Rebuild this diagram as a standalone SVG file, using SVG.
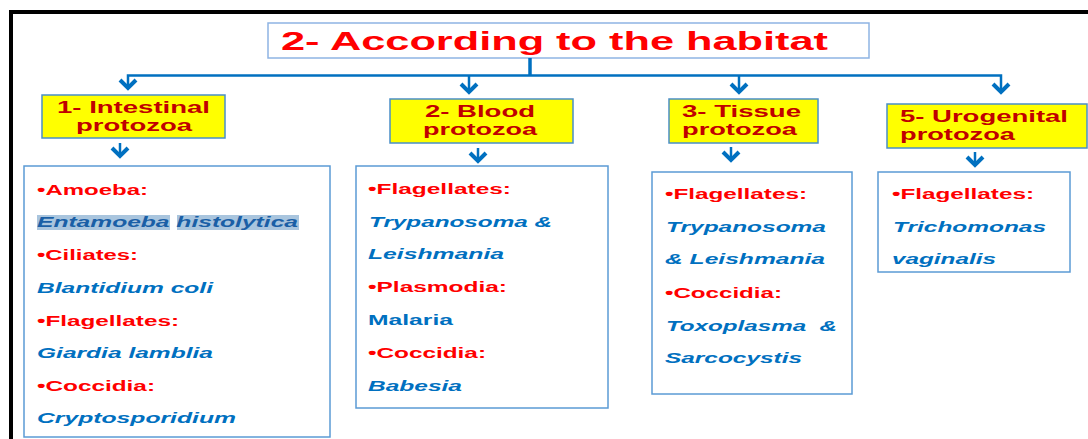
<svg xmlns="http://www.w3.org/2000/svg" width="1088" height="439" viewBox="0 0 1088 439">
<defs>
<style>
.frame{fill:none;stroke:#000;stroke-width:4}
.title{fill:#fff;stroke:#8eb4e3;stroke-width:1.5}
.tt{font-family:"Liberation Sans",Arial,sans-serif;font-weight:bold;font-size:26px;fill:#ff0000}
.hdr{fill:#ffff00;stroke:#4a8fc7;stroke-width:1.5}
.ht{font-family:"Liberation Sans",Arial,sans-serif;font-weight:bold;font-size:16.5px;fill:#c00000}
.box{fill:#fff;stroke:#5b9bd5;stroke-width:1.5}
.lab{font-family:"Liberation Sans",Arial,sans-serif;font-weight:bold;font-size:14.5px;fill:#ff0000}
.sp{font-family:"Liberation Sans",Arial,sans-serif;font-weight:bold;font-style:italic;font-size:14.5px;fill:#0070c0}
.spn{font-family:"Liberation Sans",Arial,sans-serif;font-weight:bold;font-size:14.5px;fill:#0070c0}
.hl{fill:#a9c5de}
.con{fill:none;stroke:#0070c0;stroke-width:2.5}
.arr{fill:none;stroke:#0070c0;stroke-width:4;stroke-linejoin:miter}
</style>
</defs>
<rect class="frame" x="11" y="12" width="1100" height="500"/>

<g id="title">
<rect class="title" x="268" y="23" width="601" height="35"/>
<text class="tt" x="281" y="49.5" textLength="547" lengthAdjust="spacingAndGlyphs">2- According to the habitat</text>
</g>

<g id="connectors">
<path class="con" d="M530 58 V75" style="stroke-width:3.5"/>
<path class="con" d="M128 88 V75.5 H1001 V90"/>
<path class="con" d="M469 75.5 V91"/>
<path class="con" d="M739 75.5 V91"/>
<path class="arr" d="M120 80 L128 88 L136 80"/>
<path class="arr" d="M461 84 L469 92 L477 84"/>
<path class="arr" d="M731 84 L739 92 L747 84"/>
<path class="arr" d="M993 84 L1001 92 L1009 84"/>
<path class="con" d="M120 143 V155"/>
<path class="arr" d="M112 148 L120 156 L128 148"/>
<path class="con" d="M478 148 V160"/>
<path class="arr" d="M470 153 L478 161 L486 153"/>
<path class="con" d="M731 147 V159"/>
<path class="arr" d="M723 152 L731 160 L739 152"/>
<path class="con" d="M975 152 V164"/>
<path class="arr" d="M967 157 L975 165 L983 157"/>
</g>

<g id="hdr-intestinal">
<rect class="hdr" x="42" y="95" width="183" height="43"/>
<text class="ht" x="57" y="113" textLength="153" lengthAdjust="spacingAndGlyphs">1- Intestinal</text>
<text class="ht" x="76" y="131" textLength="116" lengthAdjust="spacingAndGlyphs">protozoa</text>
</g>
<g id="hdr-blood">
<rect class="hdr" x="390" y="99" width="183" height="44"/>
<text class="ht" x="425" y="117" textLength="110" lengthAdjust="spacingAndGlyphs">2- Blood</text>
<text class="ht" x="423" y="135" textLength="114" lengthAdjust="spacingAndGlyphs">protozoa</text>
</g>
<g id="hdr-tissue">
<rect class="hdr" x="669" y="99" width="149" height="44"/>
<text class="ht" x="682" y="117" textLength="119" lengthAdjust="spacingAndGlyphs">3- Tissue</text>
<text class="ht" x="682" y="135" textLength="115" lengthAdjust="spacingAndGlyphs">protozoa</text>
</g>
<g id="hdr-urogenital">
<rect class="hdr" x="887" y="104" width="200" height="44"/>
<text class="ht" x="900" y="122" textLength="168" lengthAdjust="spacingAndGlyphs">5- Urogenital</text>
<text class="ht" x="900" y="140" textLength="115" lengthAdjust="spacingAndGlyphs">protozoa</text>
</g>

<g id="box-intestinal">
<rect class="box" x="24" y="166" width="306" height="271"/>
<rect class="hl" x="37" y="215" width="133" height="15"/>
<rect class="hl" x="177" y="215" width="122" height="15"/>
<text class="lab" x="37" y="195" textLength="111" lengthAdjust="spacingAndGlyphs">•Amoeba:</text>
<text class="sp" x="37" y="227" textLength="261" lengthAdjust="spacingAndGlyphs" style="fill:#1a5fa6">Entamoeba histolytica</text>
<text class="lab" x="37" y="260" textLength="101" lengthAdjust="spacingAndGlyphs">•Ciliates:</text>
<text class="sp" x="37" y="293" textLength="176" lengthAdjust="spacingAndGlyphs">Blantidium coli</text>
<text class="lab" x="37" y="326" textLength="142" lengthAdjust="spacingAndGlyphs">•Flagellates:</text>
<text class="sp" x="37" y="358" textLength="176" lengthAdjust="spacingAndGlyphs">Giardia lamblia</text>
<text class="lab" x="37" y="391" textLength="118" lengthAdjust="spacingAndGlyphs">•Coccidia:</text>
<text class="sp" x="37" y="423" textLength="199" lengthAdjust="spacingAndGlyphs">Cryptosporidium</text>
</g>

<g id="box-blood">
<rect class="box" x="356" y="166" width="252" height="242"/>
<text class="lab" x="368" y="194" textLength="143" lengthAdjust="spacingAndGlyphs">•Flagellates:</text>
<text class="sp" x="369" y="227" textLength="183" lengthAdjust="spacingAndGlyphs">Trypanosoma &amp;</text>
<text class="sp" x="368" y="259" textLength="136" lengthAdjust="spacingAndGlyphs">Leishmania</text>
<text class="lab" x="368" y="292" textLength="139" lengthAdjust="spacingAndGlyphs">•Plasmodia:</text>
<text class="spn" x="368" y="325" textLength="85" lengthAdjust="spacingAndGlyphs">Malaria</text>
<text class="lab" x="368" y="358" textLength="118" lengthAdjust="spacingAndGlyphs">•Coccidia:</text>
<text class="sp" x="368" y="391" textLength="94" lengthAdjust="spacingAndGlyphs">Babesia</text>
</g>

<g id="box-tissue">
<rect class="box" x="652" y="172" width="200" height="222"/>
<text class="lab" x="665" y="199" textLength="142" lengthAdjust="spacingAndGlyphs">•Flagellates:</text>
<text class="sp" x="666" y="232" textLength="160" lengthAdjust="spacingAndGlyphs">Trypanosoma</text>
<text class="sp" x="665" y="264" textLength="160" lengthAdjust="spacingAndGlyphs">&amp; Leishmania</text>
<text class="lab" x="665" y="298" textLength="117" lengthAdjust="spacingAndGlyphs">•Coccidia:</text>
<text class="sp" x="666" y="331" textLength="171" lengthAdjust="spacingAndGlyphs" style="white-space:pre">Toxoplasma  &amp;</text>
<text class="sp" x="665" y="363" textLength="137" lengthAdjust="spacingAndGlyphs">Sarcocystis</text>
</g>

<g id="box-urogenital">
<rect class="box" x="878" y="172" width="192" height="100"/>
<text class="lab" x="892" y="199" textLength="142" lengthAdjust="spacingAndGlyphs">•Flagellates:</text>
<text class="sp" x="893" y="232" textLength="153" lengthAdjust="spacingAndGlyphs">Trichomonas</text>
<text class="sp" x="892" y="264" textLength="104" lengthAdjust="spacingAndGlyphs">vaginalis</text>
</g>
</svg>
